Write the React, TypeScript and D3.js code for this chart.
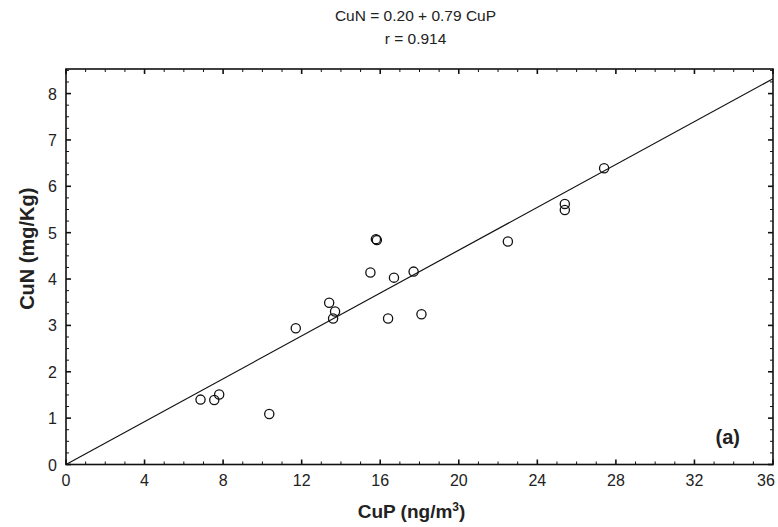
import React from "react";
import * as d3 from "d3";

const cuP = [6.85, 7.55, 7.8, 10.35, 11.7, 13.4, 13.7, 13.6, 16.4, 18.1, 15.5, 16.7, 17.7, 15.78, 15.83, 22.5, 25.4, 25.4, 27.4];
const cuN = [1.4, 1.39, 1.51, 1.09, 2.94, 3.49, 3.3, 3.15, 3.15, 3.24, 4.14, 4.03, 4.16, 4.86, 4.84, 4.81, 5.62, 5.49, 6.39];
const fitX = [0, 36];
const fitY = [0, 8.32];
const xTickLabels = [0, 4, 8, 12, 16, 20, 24, 28, 32, 36];
const yTickLabels = [0, 1, 2, 3, 4, 5, 6, 7, 8];
const titleLines = ["CuN = 0.20 + 0.79 CuP", "r = 0.914"];

const W = 778, H = 527;
const L = 66, R = 773, T = 69, B = 464.5;

export default function App() {
  const x = d3.scaleLinear().domain([0, 36]).range([L, R]);
  const y = d3.scaleLinear().domain([0, 8.53]).range([B, T]);
  const xMinor = d3.range(0, 36.01, 1);
  const yMinor = d3.range(0, 8.51, 0.25);
  const line = d3.line<number>().x((_, i) => x(fitX[i])).y((d) => y(d));
  const font = "'Liberation Sans', Arial, Helvetica, sans-serif";
  return (
    <svg width={W} height={H} style={{ position: "absolute", left: 0, top: 0, background: "#fff" }} fontFamily={font}>
      <rect x={0} y={0} width={W} height={H} fill="#fff" />
      {titleLines.map((t, i) => (
        <text key={t} x={(L + R) / 2 - 4} y={21 + i * 23} textAnchor="middle" fontSize={15.5} fill="#222">{t}</text>
      ))}
      {xMinor.map((v) => {
        const major = v % 4 === 0;
        const len = major ? 5 : 3;
        return (
          <g key={"xm" + v} stroke="#111" strokeWidth={major ? 1.6 : 1}>
            <line x1={x(v)} x2={x(v)} y1={B} y2={B - len} />
            <line x1={x(v)} x2={x(v)} y1={T} y2={T + len} />
          </g>
        );
      })}
      {yMinor.map((v) => {
        const major = Math.abs(v - Math.round(v)) < 1e-6;
        const len = major ? 5 : 3;
        return (
          <g key={"ym" + v} stroke="#111" strokeWidth={major ? 1.6 : 1}>
            <line x1={L} x2={L + len} y1={y(v)} y2={y(v)} />
            <line x1={R} x2={R - len} y1={y(v)} y2={y(v)} />
          </g>
        );
      })}
      <path d={line(fitY) || ""} fill="none" stroke="#111" strokeWidth={1.2} />
      {cuP.map((v, i) => (
        <circle key={i} cx={x(v)} cy={y(cuN[i])} r={4.6} fill="none" stroke="#111" strokeWidth={1.3} />
      ))}
      <rect x={L} y={T} width={R - L} height={B - T} fill="none" stroke="#111" strokeWidth={1.6} />
      {xTickLabels.map((v) => (
        <text key={"xl" + v} x={Math.min(x(v), 766)} y={B + 21} textAnchor="middle" fontSize={16} fill="#222">{v}</text>
      ))}
      {yTickLabels.map((v) => (
        <text key={"yl" + v} x={L - 9} y={y(v) + 6} textAnchor="end" fontSize={16} fill="#222">{v}</text>
      ))}
      <text x={(L + R) / 2 - 8} y={518} textAnchor="middle" fontSize={19} fontWeight="bold" fill="#222">
        CuP (ng/m<tspan dy={-7} fontSize={12}>3</tspan><tspan dy={7}>)</tspan>
      </text>
      <text transform={`translate(34,${(T + B) / 2 - 18}) rotate(-90)`} textAnchor="middle" fontSize={20} fontWeight="bold" fill="#222">
        CuN (mg/Kg)
      </text>
      <text x={740} y={444} textAnchor="end" fontSize={20} fontWeight="bold" fill="#222">(a)</text>
    </svg>
  );
}
